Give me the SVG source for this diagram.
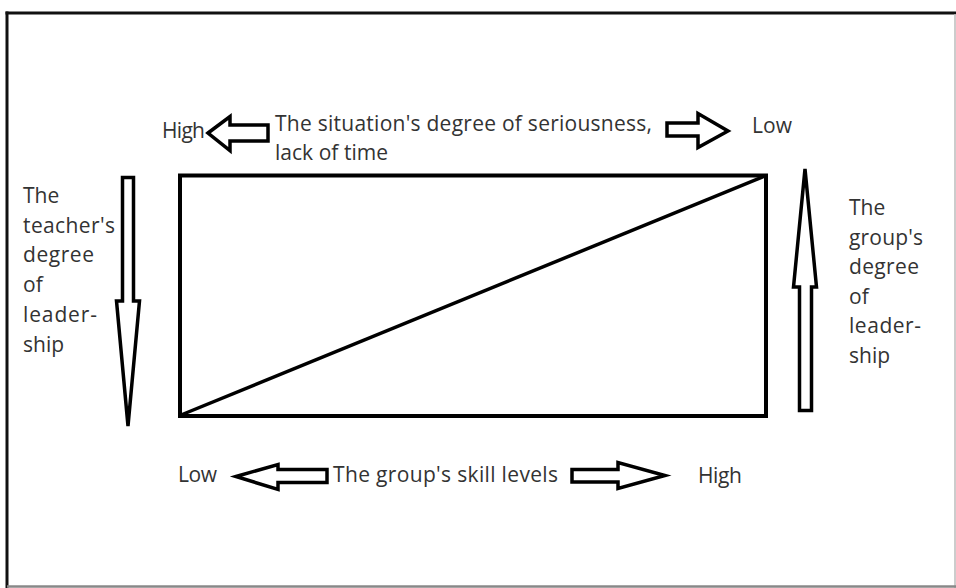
<svg xmlns="http://www.w3.org/2000/svg" width="956" height="588" viewBox="0 0 956 588">
<style>
  .t { font-family: "Open Sans", "Liberation Sans", sans-serif; font-size: 21px; fill: #333; }
  .ar { fill: #fff; stroke: #000; stroke-width: 3.5; stroke-linejoin: miter; }
</style>
<rect x="0" y="0" width="956" height="588" fill="#fff"/>
<g id="frame">
  <line x1="7" y1="11.5" x2="7" y2="588" stroke="#111" stroke-width="3"/>
  <line x1="5.5" y1="13" x2="956" y2="13" stroke="#111" stroke-width="3"/>
  <line x1="955" y1="14" x2="955" y2="588" stroke="#bbb" stroke-width="1.5"/>
  <line x1="7" y1="586.5" x2="956" y2="586.5" stroke="#888" stroke-width="2.5"/>
</g>
<g id="main-box">
  <rect x="180" y="175.5" width="586" height="240.5" fill="none" stroke="#000" stroke-width="4"/>
  <line x1="181" y1="415" x2="765" y2="176" stroke="#000" stroke-width="3.5"/>
</g>
<g id="arrows">
  <polygon class="ar" points="208,133 230,116.5 230,125 268,125 268,141 230,141 230,150.5"/>
  <polygon class="ar" points="667,123 698,123 698,113.5 728,131 698,147.5 698,136 667,136"/>
  <polygon class="ar" points="236,476.5 278,464.5 278,469.5 327,469.5 327,482.5 278,482.5 278,489.5"/>
  <polygon class="ar" points="572,469.5 618,469.5 618,462.5 665,475.5 618,488.5 618,482 572,482"/>
  <polygon class="ar" points="122.5,177.5 133.5,177.5 133.5,301 139.5,301 128,426 116.5,301 122.5,301"/>
  <polygon class="ar" points="799.5,410.5 811.5,410.5 811.5,287 816.5,287 805,169 793.5,287 799.5,287"/>
</g>
<g id="top-labels">
  <text class="t" x="162" y="138" textLength="43">High</text>
  <text class="t" x="275" y="131" textLength="377">The situation's degree of seriousness,</text>
  <text class="t" x="275" y="160" textLength="113">lack of time</text>
  <text class="t" x="752" y="133" textLength="40">Low</text>
</g>
<g id="bottom-labels">
  <text class="t" x="178" y="482" textLength="39">Low</text>
  <text class="t" x="333" y="482" textLength="225">The group's skill levels</text>
  <text class="t" x="698" y="483" textLength="44">High</text>
</g>
<g id="left-label">
  <text class="t" x="23" y="203">The</text>
  <text class="t" x="23" y="233" textLength="92">teacher's</text>
  <text class="t" x="23" y="262" textLength="71">degree</text>
  <text class="t" x="23" y="292">of</text>
  <text class="t" x="23" y="322" textLength="74">leader-</text>
  <text class="t" x="23" y="352">ship</text>
</g>
<g id="right-label">
  <text class="t" x="849" y="215">The</text>
  <text class="t" x="849" y="245" textLength="74">group's</text>
  <text class="t" x="849" y="274" textLength="70">degree</text>
  <text class="t" x="849" y="304">of</text>
  <text class="t" x="849" y="333" textLength="72">leader-</text>
  <text class="t" x="849" y="363">ship</text>
</g>
</svg>
